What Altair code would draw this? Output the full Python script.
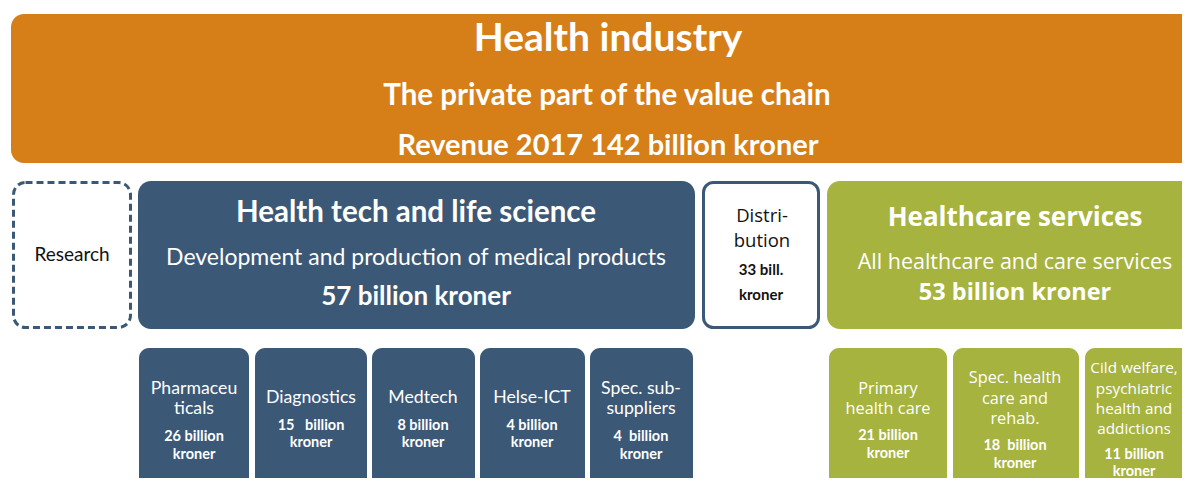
import altair as alt
import pandas as pd

# ---------------- data ----------------
top_titles = ["Health industry", "The private part of the value chain",
              "Revenue 2017 142 billion kroner"]
research_label = "Research"
tech_title = "Health tech and life science"
tech_subtitle = "Development and production of medical products"
tech_total = 57
distribution_label = ["Distri-", "bution"]
distribution_total = 33
services_title = "Healthcare services"
services_subtitle = "All healthcare and care services"
services_total = 53

tech_categories = [["Pharmaceu", "ticals"], ["Diagnostics"], ["Medtech"],
                   ["Helse-ICT"], ["Spec. sub-", "suppliers"]]
tech_values = [26, 15, 8, 4, 4]
tech_value_gap = [" ", "\u00a0\u00a0\u00a0", " ", " ", "\u00a0\u00a0"]

service_categories = [["Primary", "health care"],
                      ["Spec. health", "care and", "rehab."],
                      ["Cild welfare,", "psychiatric", "health and", "addictions"]]
service_values = [21, 18, 11]
service_value_gap = [" ", "\u00a0\u00a0", " "]

# ---------------- layout (page pixels) ----------------
ORANGE = "#D67E17"
BLUE = "#3B5877"
GREEN = "#A6B33F"
WHITE = "#FFFFFF"
BLACK = "#111111"

tech_boxes_x = [(139, 249), (255, 367), (372, 475), (480, 585), (590, 693)]
tech_centers = [194, 311, 423, 532, 641]
service_boxes_x = [(829, 947), (953, 1079), (1085, 1200)]
service_centers = [888, 1015, 1134]

big_boxes = pd.DataFrame([
    dict(x0=11, x1=1205, y0=14, y1=163, fill=ORANGE),
    dict(x0=138, x1=695, y0=181, y1=329, fill=BLUE),
    dict(x0=827, x1=1205, y0=181, y1=329, fill=GREEN),
])
small_boxes = pd.DataFrame(
    [dict(x0=a, x1=b, y0=348, y1=600, fill=BLUE) for a, b in tech_boxes_x] +
    [dict(x0=a, x1=b, y0=348, y1=600, fill=GREEN) for a, b in service_boxes_x]
)
dist_box = pd.DataFrame([dict(x0=703.5, x1=818.5, y0=182.5, y1=327.5)])
research_box = pd.DataFrame([dict(x0=13.5, x1=130.5, y0=182.5, y1=327.5)])

LATO = "Lato"
OPEN = "Open Sans"

rows = []
def add(text, x, y, size, color, font, weight):
    rows.append(dict(text=text, x=x, y=y, size=size, color=color, font=font, weight=weight))

# banner
add(top_titles[0], 608, 39, 39, WHITE, LATO, "bold")
add(top_titles[1], 607, 96, 29.5, WHITE, LATO, "bold")
add(top_titles[2], 608, 146, 29, WHITE, LATO, "bold")
# research
add(research_label, 72, 255, 19, BLACK, LATO, "normal")
# health tech
add(tech_title, 416, 213, 29.5, WHITE, LATO, "bold")
add(tech_subtitle, 416, 258, 23, WHITE, LATO, "normal")
add(f"{tech_total} billion kroner", 416, 297, 26, WHITE, LATO, "bold")
# distribution
add(distribution_label[0], 762, 216, 18.5, BLACK, OPEN, "normal")
add(distribution_label[1], 762, 241, 18.5, BLACK, OPEN, "normal")
add(f"{distribution_total} bill.", 761, 270, 15, BLACK, LATO, "bold")
add("kroner", 761, 295, 15, BLACK, LATO, "bold")
# healthcare services
add(services_title, 1015, 218, 26, WHITE, OPEN, "bold")
add(services_subtitle, 1015, 263, 21.5, WHITE, OPEN, "normal")
add(f"{services_total} billion kroner", 1015, 293, 23.5, WHITE, OPEN, "bold")

# tech sub-boxes
for cats, val, gap, cx in zip(tech_categories, tech_values, tech_value_gap, tech_centers):
    if len(cats) == 2:
        ys = [389, 409]
        vy = [437, 455]
    else:
        ys = [398]
        vy = [426, 443]
    for t, y in zip(cats, ys):
        add(t, cx, y, 17.7, WHITE, LATO, "normal")
    add(f"{val}{gap}billion", cx, vy[0], 14.5, WHITE, LATO, "bold")
    add("kroner", cx, vy[1], 14.5, WHITE, LATO, "bold")

# service sub-boxes
service_line_y = [[389, 409], [378, 399, 419], [368, 389, 409, 429]]
service_value_y = [[436, 454], [446, 464], [455, 472]]
service_sizes = [16.3, 16.3, 15.3]
for cats, val, gap, cx, ys, vy, sz in zip(service_categories, service_values, service_value_gap,
                                          service_centers, service_line_y, service_value_y,
                                          service_sizes):
    for t, y in zip(cats, ys):
        add(t, cx, y, sz, WHITE, OPEN, "normal")
    add(f"{val}{gap}billion", cx, vy[0], 14.5, WHITE, LATO, "bold")
    add("kroner", cx, vy[1], 14.5, WHITE, LATO, "bold")

texts = pd.DataFrame(rows)

# ---------------- chart ----------------
W, H = 1174, 470
xs = alt.Scale(domain=[8, 8 + W], nice=False, zero=False)
ys = alt.Scale(domain=[8, 8 + H], nice=False, zero=False, reverse=True)

def rect_enc(base):
    return base.encode(
        x=alt.X("x0:Q", scale=xs, axis=None),
        x2="x1:Q",
        y=alt.Y("y0:Q", scale=ys, axis=None),
        y2="y1:Q",
    )

big = rect_enc(alt.Chart(big_boxes).mark_rect(cornerRadius=13, clip=True)).encode(
    color=alt.Color("fill:N", scale=None))
small = rect_enc(alt.Chart(small_boxes).mark_rect(cornerRadius=10, clip=True)).encode(
    color=alt.Color("fill:N", scale=None))
dist = rect_enc(alt.Chart(dist_box).mark_rect(
    cornerRadius=10, fill=WHITE, stroke=BLUE, strokeWidth=3, clip=True))
research = rect_enc(alt.Chart(research_box).mark_rect(
    cornerRadius=12, fill=WHITE, stroke=BLUE, strokeWidth=3,
    strokeDash=[7, 4], clip=True))

layers = [big, small, dist, research]
for (font, weight), grp in texts.groupby(["font", "weight"]):
    layers.append(
        alt.Chart(grp).mark_text(font=font, fontWeight=weight, align="center",
                                 baseline="middle", clip=True).encode(
            x=alt.X("x:Q", scale=xs, axis=None),
            y=alt.Y("y:Q", scale=ys, axis=None),
            text="text:N",
            size=alt.Size("size:Q", scale=None, legend=None),
            color=alt.Color("color:N", scale=None),
        )
    )

chart = alt.layer(*layers).properties(
    width=W, height=H,
    autosize=alt.AutoSizeParams(type="none"),
    padding=0,
    background="white",
).configure_view(stroke=None)

chart.save("out.html", embed_options={"renderer": "svg", "actions": False})
